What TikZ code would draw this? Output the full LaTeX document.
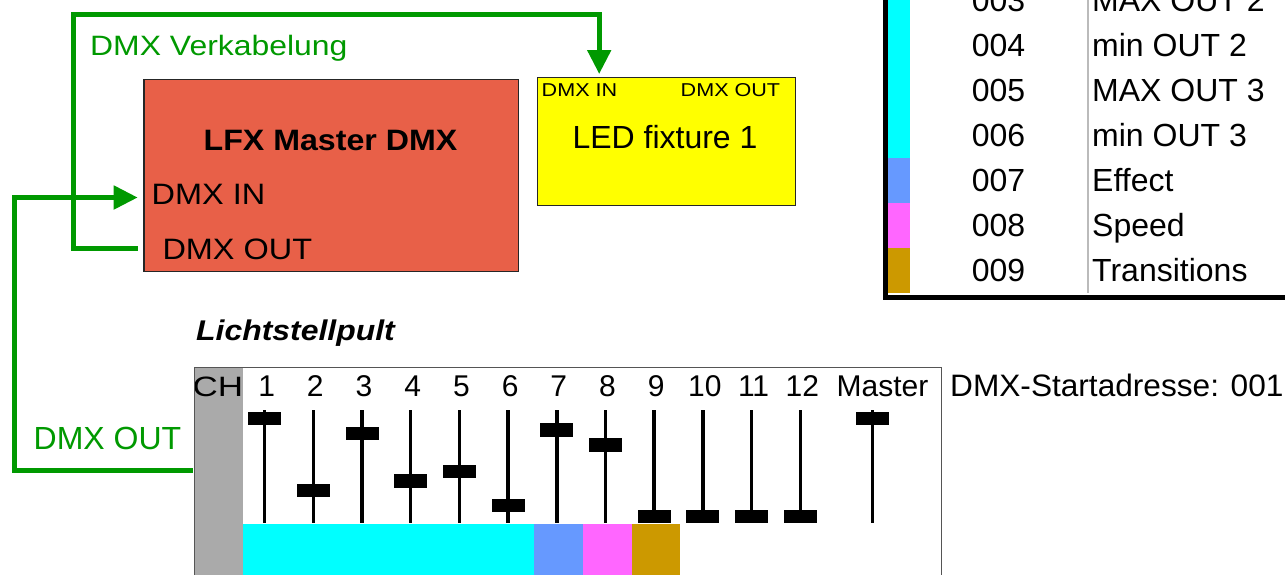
\documentclass[tikz,border=0pt]{standalone}
\usepackage{fontspec}
\setmainfont{Liberation Sans}
\usetikzlibrary{arrows.meta}
\definecolor{wiregreen}{HTML}{009900}
\definecolor{masterred}{HTML}{E86048}
\definecolor{ledyellow}{HTML}{FFFF00}
\definecolor{chgray}{HTML}{AAAAAA}
\definecolor{sepgray}{HTML}{BBBBBB}
\definecolor{framegray}{HTML}{555555}
\definecolor{cyanbar}{HTML}{00FFFF}
\definecolor{bluebar}{HTML}{6699FF}
\definecolor{pinkbar}{HTML}{FF66FF}
\definecolor{goldbar}{HTML}{CC9900}
\newcommand{\hstr}[2]{\scalebox{#1}[1]{#2}}
\newcommand{\fsz}[1]{\fontsize{#1}{#1}\selectfont}
\begin{document}
\begin{tikzpicture}[x=1pt,y=-1pt,
  wire/.style={line width=5pt, draw=wiregreen, line join=miter},
  arr/.style={-{Triangle[length=24pt,width=23pt]}},
  txt/.style={inner sep=0pt, anchor=base west},
  boxstyle/.style={draw=black!85, line width=1.2pt, inner sep=0pt, anchor=north west},
  knobstyle/.style={fill=black, inner sep=0pt, minimum width=33pt, minimum height=13.5pt},
  track/.style={line width=3.5pt},
  chlabel/.style={inner sep=0pt, anchor=base, font=\fsz{30}},
  tabnum/.style={inner sep=0pt, anchor=base, font=\fsz{32}},
  tabtxt/.style={inner sep=0pt, anchor=base west, font=\fsz{32}}]
\useasboundingbox (0,0) rectangle (1285,574);
\clip (0,0) rectangle (1285,574);
\fill[white] (0,0) rectangle (1285,574);

% ---------- table (top right) ----------
\fill[cyanbar] (888.3,-10) rectangle (910,158.3);
\fill[bluebar] (888.3,158.3) rectangle (910,203.3);
\fill[pinkbar] (888.3,203.3) rectangle (910,248.3);
\fill[goldbar] (888.3,248.3) rectangle (910,293.3);
\draw[line width=2pt, sepgray] (1088,-10) -- (1088,293.3);
\draw[line width=5pt, line join=miter] (885.8,-10) -- (885.8,297.8) -- (1295,297.8);
\foreach \n/\t/\c in {003/MAX OUT 2/0.7, 004/min OUT 2/45.7, 005/MAX OUT 3/90.7,
  006/min OUT 3/135.7, 007/Effect/180.7, 008/Speed/225.7, 009/Transitions/270.7}{
  \node[tabnum] (num\n) at (998.5,\c+11) {\n};
  \node[tabtxt] (name\n) at (1092,\c+11) {\t};
}

% ---------- master box ----------
\node[boxstyle, fill=masterred, minimum width=374.4pt, minimum height=192.3pt] (master) at (143.3,78.7) {};
\node[inner sep=0pt, anchor=base, font=\fsz{29.5}\bfseries] (mtitle) at (330.5,150) {\hstr{1.09}{LFX Master DMX}};
\node[txt, font=\fsz{29.5}] (min) at (151.5,204) {\hstr{1.1}{DMX IN}};
\node[txt, font=\fsz{29.5}] (mout) at (162.3,259) {\hstr{1.1}{DMX OUT}};

% ---------- LED fixture ----------
\node[boxstyle, fill=ledyellow, minimum width=258.3pt, minimum height=128.3pt] (led) at (536.7,76.7) {};
\node[txt, font=\fsz{18.6}] (ledin) at (541.5,96) {\hstr{1.16}{DMX IN}};
\node[txt, font=\fsz{18.6}] (ledout) at (680.5,96) {\hstr{1.16}{DMX OUT}};
\node[inner sep=0pt, anchor=base, font=\fsz{32}] (ledname) at (665,148.3) {LED fixture 1};

% ---------- console ----------
\node[inner sep=0pt, anchor=north west, fill=white, minimum width=746.7pt, minimum height=240pt] (console) at (194.3,367.3) {};
\fill[chgray] (194.3,367.3) rectangle (243,600);
\node[inner sep=0pt, anchor=base, font=\fsz{28}] (chlab) at (218,396.7) {\hstr{1.25}{CH}};
\fill[cyanbar] (243,524) rectangle (534,600);
\fill[bluebar] (534,524) rectangle (582.5,600);
\fill[pinkbar] (582.5,524) rectangle (632,600);
\fill[goldbar] (632,524) rectangle (680,600);
\foreach \i/\ky in {1/418.7, 2/490.5, 3/433.7, 4/481.2, 5/471.5, 6/505.5, 7/429.8, 8/445.2,
  9/516.3, 10/516.3, 11/516.3, 12/516.3}{
  \pgfmathsetmacro{\fx}{264.6+48.7*(\i-1)}
  \draw[track] (\fx,410) -- (\fx,522.7);
  \node[knobstyle] (knob\i) at (\fx,\ky) {};
  \node[chlabel] (lab\i) at (\fx+2,396.7) {\i};
}
\draw[track] (872.5,410) -- (872.5,522.7);
\node[knobstyle] (knobM) at (872.5,418.7) {};
\node[chlabel] (labM) at (882.5,396.7) {Master};
\draw[framegray, line width=1.5pt] (console.south west) rectangle (console.north east);
\node[txt, font=\fsz{28.5}\bfseries\itshape] (pult) at (196,340) {\hstr{1.12}{Lichtstellpult}};
\node[txt, font=\fsz{31}] (start) at (950,396.7) {\hstr{1.02}{DMX-Startadresse: 001}};

% ---------- wiring ----------
\coordinate (conOUT) at (192.7,470.8);
\coordinate (mIN) at (137.7,197.5);
\coordinate (mOUT) at (137.7,248.5);
\coordinate (ledIN) at (599.2,74);
\draw[wire, arr] (conOUT) -- (14.8,470.8) -- (14.8,197.5) -- (mIN);
\draw[wire, arr] (mOUT) -- (73.5,248.5) -- (73.5,14.8) -- (599.2,14.8) -- (ledIN);
\node[txt, font=\fsz{28}, text=wiregreen] (verk) at (90,55) {\hstr{1.14}{DMX Verkabelung}};
\node[txt, font=\fsz{32}, text=wiregreen] (dmxout) at (33.5,449.3) {DMX OUT};
\end{tikzpicture}
\end{document}
